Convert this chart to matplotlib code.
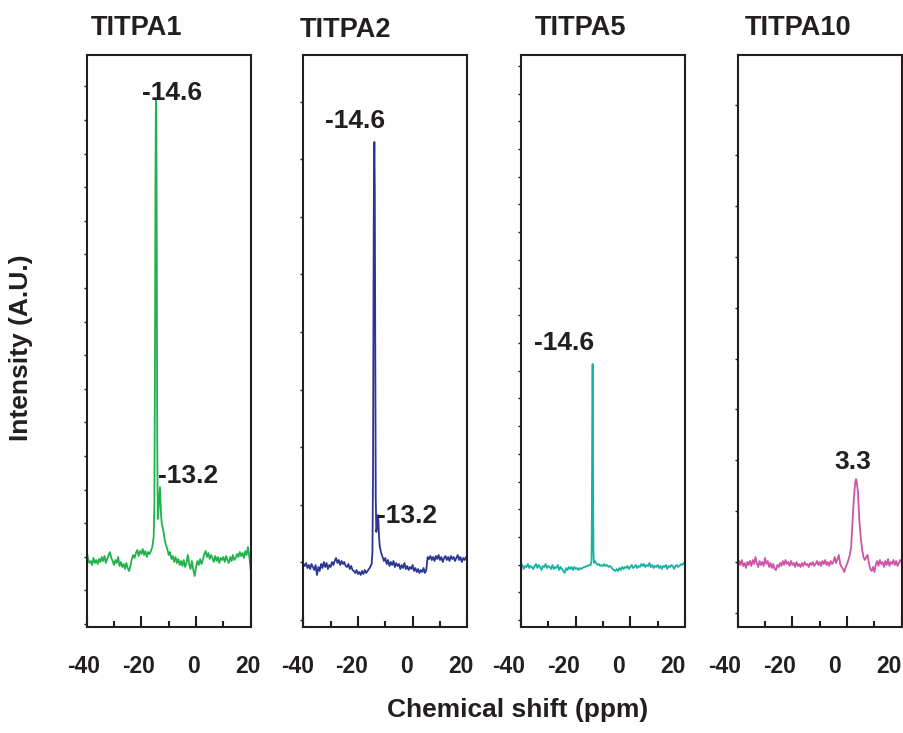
import numpy as np
import matplotlib
matplotlib.use("Agg")
import matplotlib.pyplot as plt
from matplotlib.transforms import ScaledTranslation
from matplotlib.ticker import FixedLocator

plt.rcParams['font.family'] = ['Liberation Sans', 'DejaVu Sans']
plt.rcParams['font.weight'] = 'bold'
plt.rcParams['axes.unicode_minus'] = False

# ---------------- data ----------------
sample_names = ["TITPA1", "TITPA2", "TITPA5", "TITPA10"]
ppm_grid = np.arange(-40, 20.01, 0.5)   # chemical shift grid (ppm)

titpa1_grid = [76, 68, 64, 66, 62, 69, 64, 67, 63, 68,
               65, 70, 66, 71, 64, 68, 72, 75, 69, 66,
               62, 67, 64, 70, 61, 65, 60, 63, 58, 64,
               59, 56, 61, 68, 72, 69, 74, 77, 71, 76,
               73, 78, 72, 76, 70, 75, 73, 76, 80, 90,
               280, 500, 108, 128, 125, 103, 97, 88, 82, 78,
               72, 75, 68, 71, 65, 70, 64, 68, 62, 66,
               61, 67, 60, 64, 72, 63, 58, 66, 57, 51,
               60, 66, 62, 68, 63, 67, 73, 76, 70, 74,
               68, 72, 69, 65, 71, 66, 70, 64, 69, 67,
               70, 65, 71, 67, 64, 70, 66, 72, 67, 69,
               73, 70, 75, 71, 74, 69, 76, 72, 80, 70,
               57]
titpa1_peak_ppm = [-15.25, -14.85, -14.7, -14.6, -14.35, -14.2, -13.8, -13.2, -12.8]
titpa1_peak_int = [120, 440, 515, 527, 370, 190, 115, 140, 112]

titpa2_grid = [63, 61, 64, 59, 62, 58, 63, 60, 57, 62,
               52, 60, 56, 63, 59, 65, 60, 64, 58, 62,
               60, 65, 62, 66, 69, 64, 67, 62, 66, 63,
               65, 61, 60, 63, 58, 61, 57, 56, 54, 57,
               53, 55, 52, 56, 53, 57, 54, 56, 58, 60,
               63, 150, 485, 130, 105, 105, 80, 74, 70, 66,
               69, 63, 67, 61, 65, 62, 66, 60, 64, 61,
               63, 58, 62, 59, 64, 58, 61, 57, 60, 58,
               62, 56, 59, 55, 58, 54, 57, 55, 59, 54,
               57, 70, 68, 71, 67, 70, 66, 71, 68, 72,
               67, 70, 65, 69, 71, 67, 70, 66, 71, 68,
               70, 66, 69, 72, 67, 70, 65, 69, 67, 70,
               66]
titpa2_peak_ppm = [-14.7, -14.3, -14.15, -13.85, -13.7, -13.3, -13.1, -12.7, -12.3]
titpa2_peak_int = [75, 350, 455, 440, 300, 95, 98, 112, 90]

titpa5_grid = [60, 62, 58, 61, 60, 63, 59, 61, 60, 58,
               61, 63, 59, 62, 60, 57, 61, 60, 63, 59,
               61, 60, 58, 62, 58, 60, 59, 62, 57, 60,
               58, 56, 54, 59, 57, 60, 58, 60, 57, 60,
               58, 59, 57, 59, 58, 59, 60, 60, 61, 61,
               62, 62, 160, 75, 66, 64, 62, 63, 61, 62,
               61, 63, 61, 62, 60, 61, 60, 58, 57, 56,
               58, 56, 59, 57, 60, 58, 60, 59, 61, 58,
               60, 62, 59, 60, 62, 59, 61, 60, 63, 61,
               63, 60, 62, 61, 64, 60, 62, 59, 61, 60,
               62, 59, 61, 58, 61, 60, 62, 58, 61, 60,
               62, 61, 58, 61, 62, 60, 61, 63, 62, 64,
               62]
titpa5_peak_ppm = [-14.2, -14.1, -13.9, -13.8, -13.7, -13.6, -13.3]
titpa5_peak_int = [66, 95, 240, 263, 235, 140, 64]

titpa10_grid = [60, 66, 62, 67, 61, 64, 59, 65, 62, 66,
                61, 67, 63, 70, 64, 60, 66, 62, 65, 61,
                69, 63, 66, 60, 64, 59, 63, 58, 57, 62,
                60, 64, 61, 66, 62, 67, 63, 65, 61, 66,
                62, 64, 60, 65, 61, 63, 60, 64, 61, 65,
                62, 63, 60, 64, 62, 65, 61, 63, 66, 62,
                65, 61, 66, 63, 67, 62, 65, 61, 66, 63,
                65, 70, 64, 68, 72, 63, 60, 58, 55, 60,
                63, 67, 72, 80, 105, 128, 145, 146, 135, 107,
                90, 78, 70, 67, 70, 72, 64, 58, 56, 60,
                55, 62, 66, 61, 67, 63, 65, 60, 66, 62,
                68, 61, 65, 63, 67, 62, 66, 61, 64, 67,
                65]
titpa10_peak_ppm = [3.3]
titpa10_peak_int = [148]

peak_labels = [[("-14.6", -8.9, 527), ("-13.2", -2.8, 144)],
               [("-14.6", -21.1, 499), ("-13.2", -1.9, 104)],
               [("-14.6", -24.3, 277)],
               [("3.3", 2.0, 158)]]

x_ticks = [-40, -20, 0, 20]
x_minor = [-30, -10, 10]

# ---------------- style ----------------
grids = [titpa1_grid, titpa2_grid, titpa5_grid, titpa10_grid]
peaks_x = [titpa1_peak_ppm, titpa2_peak_ppm, titpa5_peak_ppm, titpa10_peak_ppm]
peaks_y = [titpa1_peak_int, titpa2_peak_int, titpa5_peak_int, titpa10_peak_int]
colors = ['#22b14c', '#2b3592', '#16b2a6', '#cc55a7']
ink = '#231f20'

W, H = 904, 733
fig = plt.figure(figsize=(W / 100, H / 100), dpi=100)

lefts_px = [86.7, 303.3, 521.0, 737.7]
width_px = 164.0
top_px, bot_px = 55.0, 627.0
ytick_start = [3.0, 7.0, 7.0, 14.5]
ytick_step = [33.6, 57.6, 27.7, 50.8]
label_shift_px = [-3, -6, -12, -13]
title_left_px = [90.7, 300.0, 535.0, 745.0]
title_base_px = [35.0, 37.3, 35.0, 35.0]

for i in range(4):
    ax = fig.add_axes([lefts_px[i] / W, (H - bot_px) / H,
                       width_px / W, (bot_px - top_px) / H])
    x = np.concatenate([ppm_grid, np.array(peaks_x[i], dtype=float)])
    y = np.concatenate([np.array(grids[i], dtype=float),
                        np.array(peaks_y[i], dtype=float)])
    order = np.argsort(x, kind='stable')
    ax.plot(x[order], y[order], color=colors[i], lw=1.3, solid_joinstyle='round')
    ax.set_xlim(-40, 20)
    ax.set_ylim(0, bot_px - top_px)

    for sp in ax.spines.values():
        sp.set_linewidth(1.5)
        sp.set_color(ink)

    ax.set_xticks(x_ticks)
    ax.set_xticks(x_minor, minor=True)
    ax.tick_params(axis='x', which='major', direction='in', length=8,
                   width=1.5, color=ink, labelsize=16.5, pad=20.5, labelcolor=ink)
    ax.tick_params(axis='x', which='minor', direction='in', length=4.5,
                   width=1.5, color=ink)
    yt = np.arange(ytick_start[i], bot_px - top_px, ytick_step[i])
    ax.yaxis.set_major_locator(FixedLocator(yt))
    ax.tick_params(axis='y', which='major', direction='out', length=2,
                   width=1.0, color=ink, labelleft=False)
    off = ScaledTranslation(label_shift_px[i] / 100, 0, fig.dpi_scale_trans)
    for lbl in ax.get_xticklabels():
        lbl.set_fontweight('bold')
        lbl.set_transform(lbl.get_transform() + off)

    for txt, px, py in peak_labels[i]:
        ax.text(px, py, txt, ha='center', va='baseline', fontsize=19,
                fontweight='bold', color=ink)

    fig.text(title_left_px[i] / W, (H - title_base_px[i]) / H, sample_names[i],
             ha='left', va='baseline', fontsize=19.5, fontweight='bold', color=ink)

fig.text(21 / W, (H - 348) / H, "Intensity (A.U.)", rotation=90,
         ha='center', va='center', fontsize=19, fontweight='bold', color=ink)
fig.text(517.5 / W, (H - 717) / H, "Chemical shift (ppm)",
         ha='center', va='baseline', fontsize=19, fontweight='bold', color=ink)

fig.savefig("out.png", dpi=100)
